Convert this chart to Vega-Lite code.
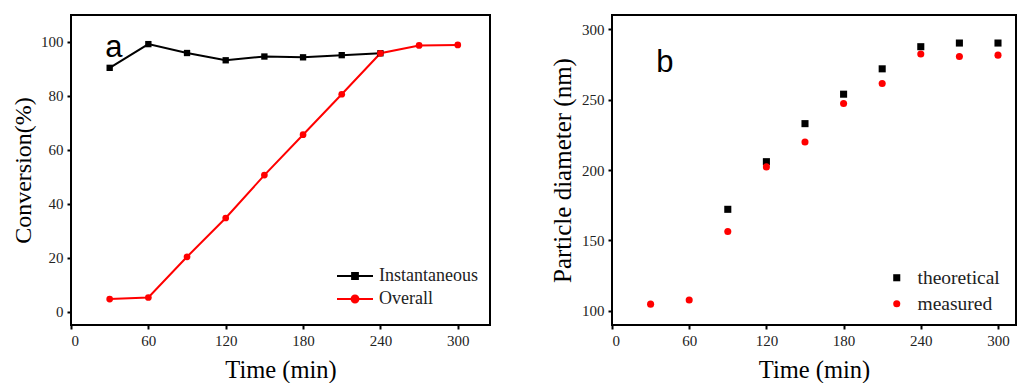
{
  "$schema": "https://vega.github.io/schema/vega-lite/v6.json",
  "padding": {"left": 10, "top": 14, "right": 0, "bottom": 0},
  "background": "white",
  "spacing": 58,
  "resolve": {"scale": {"color": "independent", "shape": "independent"}, "legend": {"color": "independent", "shape": "independent"}},
  "datasets": {
    "conv": [
      {"t": 30, "v": 90.4, "series": "Instantaneous"},
      {"t": 60, "v": 99.2, "series": "Instantaneous"},
      {"t": 90, "v": 95.9, "series": "Instantaneous"},
      {"t": 120, "v": 93.2, "series": "Instantaneous"},
      {"t": 150, "v": 94.6, "series": "Instantaneous"},
      {"t": 180, "v": 94.3, "series": "Instantaneous"},
      {"t": 210, "v": 95.1, "series": "Instantaneous"},
      {"t": 240, "v": 95.8, "series": "Instantaneous"},
      {"t": 30, "v": 4.6, "series": "Overall"},
      {"t": 60, "v": 5.2, "series": "Overall"},
      {"t": 90, "v": 20.3, "series": "Overall"},
      {"t": 120, "v": 34.7, "series": "Overall"},
      {"t": 150, "v": 50.6, "series": "Overall"},
      {"t": 180, "v": 65.6, "series": "Overall"},
      {"t": 210, "v": 80.6, "series": "Overall"},
      {"t": 240, "v": 95.8, "series": "Overall"},
      {"t": 270, "v": 98.7, "series": "Overall"},
      {"t": 300, "v": 98.9, "series": "Overall"}
    ],
    "diam": [
      {"t": 90, "d": 172.1, "series": "theoretical"},
      {"t": 120, "d": 205.9, "series": "theoretical"},
      {"t": 150, "d": 232.9, "series": "theoretical"},
      {"t": 180, "d": 253.8, "series": "theoretical"},
      {"t": 210, "d": 271.8, "series": "theoretical"},
      {"t": 240, "d": 287.5, "series": "theoretical"},
      {"t": 270, "d": 290.1, "series": "theoretical"},
      {"t": 300, "d": 290.1, "series": "theoretical"},
      {"t": 30, "d": 104.8, "series": "measured"},
      {"t": 60, "d": 107.8, "series": "measured"},
      {"t": 90, "d": 156.4, "series": "measured"},
      {"t": 120, "d": 202.2, "series": "measured"},
      {"t": 150, "d": 219.9, "series": "measured"},
      {"t": 180, "d": 247.2, "series": "measured"},
      {"t": 210, "d": 261.4, "series": "measured"},
      {"t": 240, "d": 282.3, "series": "measured"},
      {"t": 270, "d": 280.6, "series": "measured"},
      {"t": 300, "d": 281.5, "series": "measured"}
    ]
  },
  "config": {
    "font": "Liberation Serif",
    "view": {"stroke": "black", "strokeWidth": 2},
    "axis": {
      "domain": false, "grid": false, "ticks": true,
      "tickColor": "black", "tickWidth": 2, "tickSize": 4,
      "labelFont": "Liberation Serif", "labelFontSize": 15, "labelColor": "#222",
      "labelPadding": 4, "titleFont": "Liberation Serif", "titleFontWeight": "normal", "titleColor": "black"
    },
    "legend": {"labelFont": "Liberation Serif", "labelColor": "#222"}
  },
  "hconcat": [
    {
      "width": 419,
      "height": 310,
      "layer": [
        {
          "data": {"name": "conv"},
          "mark": {"type": "line", "strokeWidth": 2},
          "encoding": {
            "x": {"field": "t", "type": "quantitative", "scale": {"domain": [0, 325], "nice": false},
                  "axis": {"values": [0, 60, 120, 180, 240, 300], "title": "Time (min)", "titleFontSize": 24.5, "titlePadding": 10}},
            "y": {"field": "v", "type": "quantitative", "scale": {"domain": [-5, 110], "nice": false, "zero": false},
                  "axis": {"values": [0, 20, 40, 60, 80, 100], "title": "Conversion(%)", "titleFontSize": 24, "titlePadding": 5}},
            "color": {"field": "series", "type": "nominal",
                      "scale": {"domain": ["Instantaneous", "Overall"], "range": ["black", "#ff0000"]},
                      "legend": {
                        "orient": "none", "legendX": 274, "legendY": 251, "title": null,
                        "labelFont": "Liberation Serif", "labelColor": "#222",
                        "labelFontSize": 18, "symbolSize": 324, "labelOffset": 14, "rowPadding": 4, "padding": 0,
                        "encode": {
                          "labels": {"update": {"font": {"value": "Liberation Serif"}, "fontSize": {"value": 18}}},
                          "symbols": {"update": {
                          "shape": {"signal": "datum.value === 'Instantaneous' ? 'M-2,0H2M-0.32,-0.32H0.32V0.32H-0.32Z' : 'M-2,0H2M0.38,0A0.38,0.38,0,1,1,-0.38,0A0.38,0.38,0,1,1,0.38,0Z'"},
                          "fill": {"signal": "datum.value === 'Instantaneous' ? 'black' : '#ff0000'"},
                          "stroke": {"signal": "datum.value === 'Instantaneous' ? 'black' : '#ff0000'"},
                          "strokeWidth": {"value": 2},
                          "opacity": {"value": 1}
                        }}}
                      }}
          }
        },
        {
          "data": {"name": "conv"},
          "transform": [{"filter": "datum.series === 'Instantaneous'"}],
          "mark": {"type": "point", "shape": "square", "filled": true, "size": 40, "opacity": 1},
          "encoding": {
            "x": {"field": "t", "type": "quantitative"},
            "y": {"field": "v", "type": "quantitative"},
            "color": {"field": "series", "type": "nominal"}
          }
        },
        {
          "data": {"name": "conv"},
          "transform": [{"filter": "datum.series === 'Overall'"}],
          "mark": {"type": "point", "shape": "circle", "filled": true, "size": 45, "opacity": 1},
          "encoding": {
            "x": {"field": "t", "type": "quantitative"},
            "y": {"field": "v", "type": "quantitative"},
            "color": {"field": "series", "type": "nominal"}
          }
        },
        {
          "data": {"values": [{"label": "a"}]},
          "mark": {"type": "text", "font": "Liberation Sans", "fontSize": 31, "align": "left", "baseline": "alphabetic", "color": "black"},
          "encoding": {
            "x": {"datum": 26.5, "type": "quantitative"},
            "y": {"datum": 94.6, "type": "quantitative"},
            "text": {"field": "label"}
          }
        }
      ]
    },
    {
      "width": 404,
      "height": 310,
      "layer": [
        {
          "data": {"name": "diam"},
          "mark": {"type": "point", "filled": true, "size": 50, "opacity": 1},
          "encoding": {
            "x": {"field": "t", "type": "quantitative", "scale": {"domain": [0, 314], "nice": false},
                  "axis": {"values": [0, 60, 120, 180, 240, 300], "title": "Time (min)", "titleFontSize": 24.5, "titlePadding": 10}},
            "y": {"field": "d", "type": "quantitative", "scale": {"domain": [90, 310], "nice": false, "zero": false},
                  "axis": {"values": [100, 150, 200, 250, 300], "title": "Particle diameter (nm)", "titleFontSize": 25, "titlePadding": 6}},
            "color": {"field": "series", "type": "nominal",
                      "scale": {"domain": ["theoretical", "measured"], "range": ["black", "#ff0000"]},
                      "legend": {"orient": "none", "legendX": 275, "legendY": 253, "title": null,
                                 "labelFont": "Liberation Serif", "labelColor": "#222",
                                 "labelFontSize": 19.5, "symbolSize": 50, "labelOffset": 11, "rowPadding": 5, "padding": 0, "symbolStrokeWidth": 0, "symbolOpacity": 1,
                                 "encode": {"labels": {"update": {"font": {"value": "Liberation Serif"}, "fontSize": {"value": 19.5}}}}}},
            "shape": {"field": "series", "type": "nominal",
                      "scale": {"domain": ["theoretical", "measured"], "range": ["square", "circle"]},
                      "legend": {"orient": "none", "legendX": 275, "legendY": 253, "title": null,
                                 "labelFont": "Liberation Serif", "labelColor": "#222",
                                 "labelFontSize": 19.5, "symbolSize": 50, "labelOffset": 11, "rowPadding": 5, "padding": 0, "symbolStrokeWidth": 0, "symbolOpacity": 1,
                                 "encode": {"labels": {"update": {"font": {"value": "Liberation Serif"}, "fontSize": {"value": 19.5}}}}}}
          }
        },
        {
          "data": {"values": [{"label": "b"}]},
          "mark": {"type": "text", "font": "Liberation Sans", "fontSize": 31, "align": "left", "baseline": "alphabetic", "color": "black"},
          "encoding": {
            "x": {"datum": 34.4, "type": "quantitative"},
            "y": {"datum": 269.7, "type": "quantitative"},
            "text": {"field": "label"}
          }
        }
      ]
    }
  ]
}
